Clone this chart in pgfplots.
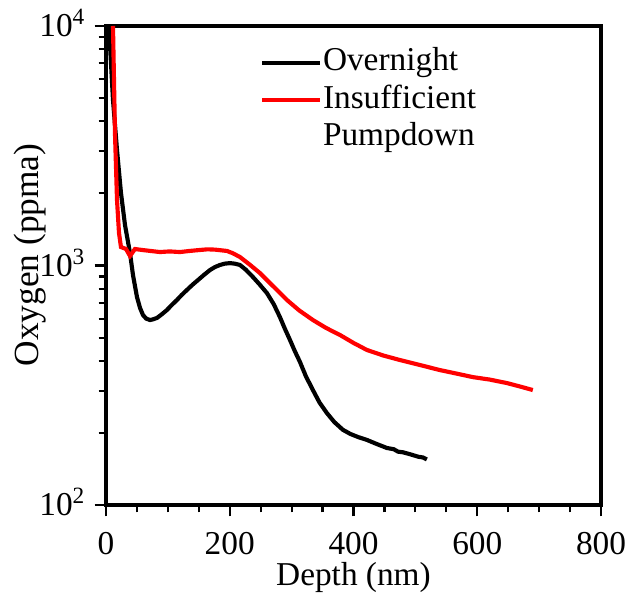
\documentclass[border=0pt]{standalone}
\usepackage{fontspec}
\setmainfont{Liberation Serif}
\usepackage{pgfplots}
\pgfplotsset{compat=1.18}

\begin{document}
\fontsize{25}{28}\selectfont
\begin{tikzpicture}
\begin{axis}[name=ax, scale only axis, width=371.25pt, height=359.25pt,
  ymode=log, xmin=0, xmax=800, ymin=100, ymax=10000,
  xtick={0,200,400,600,800}, minor x tick num=3,
  ytick={100,1000,10000}, yticklabels={10\textsuperscript{2},10\textsuperscript{3},10\textsuperscript{4}},
  /pgf/number format/assume math mode=true,
  tick pos=left, tick align=outside,
  major tick length=8.5pt, minor tick length=5.5pt,
  axis line style={line width=2.3pt},
  major tick style={black, line width=1.6pt}, minor tick style={black, line width=1.6pt},
  xticklabel style={anchor=base, inner sep=0pt, yshift=-29pt},
  yticklabel style={anchor=base east, inner sep=0pt, xshift=-7pt, yshift=-8pt},
  xlabel={Depth (nm)}, ylabel={Oxygen (ppma)},
  xlabel style={at={(rel axis cs:0.5,-0.168)}, anchor=base, inner sep=0pt},
  ylabel style={at={(rel axis cs:-0.137,0.522)}, anchor=base, inner sep=0pt, font=\fontsize{26.5}{28}\selectfont},
  legend cell align=left,
  legend style={at={(rel axis cs:0.311,0.957)}, anchor=north west, draw=none, fill=none,
    inner sep=0pt, row sep=4pt, column sep=0pt,
    nodes={inner sep=1pt, text height=17pt, text depth=5pt}},
  legend image code/.code={\draw[#1] (0pt,0pt) -- (43pt,0pt);},
  clip=true]

\addplot[black, line width=3.1pt] coordinates {
(4.8,10000)(11.3,4910)(17.8,3035)(24.2,2009)(30.7,1476)(38.8,1127)(43.6,913)
(50.1,738)(55,665)(59.8,621)(65,600)(71.1,592)(76,596)(82.4,604)(90,625)(98.5,652)
(106,683)(114.7,718)(122,752)(130.9,791)(140,832)(148.6,869)(158,912)(168.0,957)
(176,985)(184.2,1005)(192,1018)(200.3,1023)(208,1018)(216.5,1005)(226,960)(237.5,895)
(248,835)(260.1,767)(271,690)(281.1,609)(289,545)(297.3,489)(305,440)(313.4,396)
(323,345)(334.4,302)(345,268)(357.0,242)(369,222)(382.9,206)(395,198)(408,192)
(421.6,187)(437,180)(454.0,173)(465,171)(472,167)(480,166)(491.1,163)(498,161)
(505,159)(512,158)(518.6,155)};
\addlegendentry{Overnight}

\addplot[red, line width=3.1pt] coordinates {
(11.3,10000)(14.5,3574)(17.8,1877)(21.0,1367)(24.2,1194)(32.3,1172)(38.8,1096)
(46.8,1172)(58.2,1161)(72,1150)(87.2,1138)(103,1145)(119.5,1138)(135,1150)(151.9,1161)
(164,1168)(176.1,1165)(195.5,1150)(205,1125)(216.5,1085)(232,1010)(248.8,930)
(270,820)(292.4,718)(312,650)(334.4,592)(356,548)(378.0,513)(400,475)(421.6,444)
(448,421)(475.0,403)(506,385)(539.6,366)(566,354)(592.9,342)(620,334)(647.8,323)
(668,313)(689.8,302)};
\addlegendentry{Insufficient}

\addlegendimage{empty legend}
\addlegendentry{Pumpdown}
\end{axis}
\pgfresetboundingbox
\path[use as bounding box] ([xshift=-79.5pt,yshift=-73.5pt]ax.south west) rectangle ([xshift=21pt,yshift=19.5pt]ax.north east);
\end{tikzpicture}
\end{document}
